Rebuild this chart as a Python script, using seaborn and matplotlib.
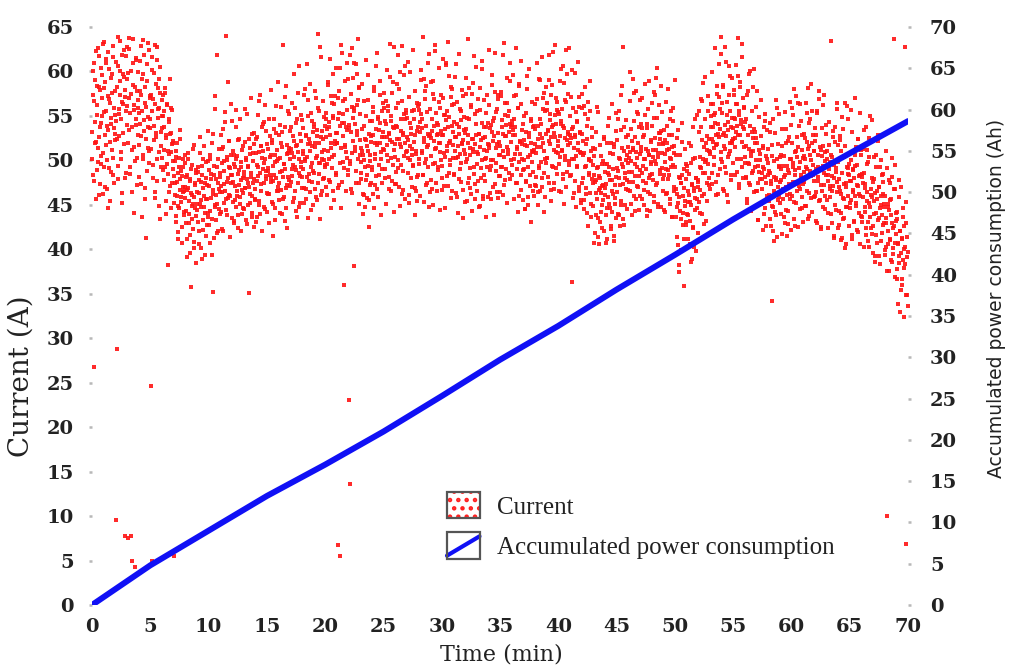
import matplotlib
matplotlib.use("Agg")
import pandas as pd
import matplotlib.pyplot as plt
import seaborn as sns
from matplotlib.patches import Rectangle
from matplotlib.lines import Line2D
from matplotlib.legend_handler import HandlerBase

# accumulated power consumption, read at 5 minute marks (Ah)
line_time = [0, 5, 10, 15, 20, 25, 30, 35, 40, 45, 50, 55, 60, 65, 70]
line_ah = [0, 4.8, 9.0, 13.2, 17.0, 21.0, 25.3, 29.7, 33.8, 38.2, 42.4, 46.7, 50.8, 54.7, 58.6]

# current samples (A), one string per minute, first half-second samples
current_a = [
    "53.2 60.1 48.4 56.7 26.8 51.9 62.3 45.6 55.1 58.4 49.8 61.7 52.6 47.3 57.9 54.2 50.5 59.6 46.2 63.1",
    "55.4 49.2 58.8 51.7 61.4 46.8 53.9 57.2 44.6 60.3 52.1 56.5 48.7 54.8 59.7 50.3 62.9 47.5 55.9 53.0",
    "57.8 9.6 28.8 52.4 60.6 47.9 55.2 63.4 58.9 50.1 54.6 61.8 45.2 56.3 59.4 51.8 7.8 57.1 48.6 62.7",
    "56.1 7.5 59.8 53.4 63.8 49.3 57.5 7.8 5.0 51.2 60.9 55.7 44.1 58.3 4.3 54.0 61.5 47.2 56.8 52.9",
    "55.3 48.1 61.2 52.7 57.4 43.6 59.1 50.6 63.5 54.5 46.9 58.2 41.3 56.0 60.8 51.4 53.8 49.7 62.4 57.0",
    "54.7 24.6 4.9 60.2 49.5 56.9 52.3 63.0 45.8 58.6 53.1 61.3 47.7 55.8 59.2 50.9 43.4 57.6 51.6 55.0",
    "53.6 57.3 48.9 55.5 51.2 58.1 45.4 52.8 56.2 49.6 38.2 54.3 50.7 47.1 53.0 55.9 44.6 51.8 49.0 52.2",
    "48.2 5.5 46.1 50.4 43.7 47.6 51.9 44.9 41.2 49.3 46.7 52.4 45.3 48.8 42.5 47.0 50.1 44.2 46.5 49.7",
    "45.8 42.9 48.4 39.1 46.9 50.8 44.0 47.7 41.6 35.8 46.3 49.5 43.4 45.1 51.7 40.8 47.2 44.6 48.9 38.4",
    "46.4 43.1 49.2 40.6 47.8 52.6 44.8 45.5 38.9 48.3 42.2 50.1 46.0 44.1 47.4 41.5 49.8 45.7 43.6 53.3",
    "47.1 42.7 50.6 44.3 48.5 39.4 52.0 46.2 35.2 49.4 45.0 55.8 43.3 47.9 61.9 41.8 50.2 46.8 44.5 48.1",
    "48.6 44.2 51.3 46.4 53.5 42.1 49.9 47.3 55.4 45.6 64.0 50.4 43.8 48.0 52.2 46.1 41.4 49.1 56.3 47.5",
    "48.3 45.3 51.0 43.0 49.6 47.1 53.8 44.7 50.5 46.6 42.4 52.3 48.9 45.9 54.6 47.8 49.2 44.0 51.6 46.3",
    "48.7 44.5 52.1 46.9 50.0 42.8 55.2 47.4 49.3 35.1 45.2 51.4 48.1 57.0 46.0 43.6 50.8 47.9 53.1 45.7",
    "46.8 52.4 49.5 43.6 55.1 48.2 50.9 45.0 57.4 51.6 47.3 53.7 42.1 49.0 54.3 44.8 50.2 56.2 47.9 48.8",
    "51.8 46.2 49.1 54.6 42.9 48.4 50.6 57.9 45.3 52.3 47.7 41.5 53.5 49.8 44.6 56.1 48.0 51.2 46.6 50.1",
    "47.4 52.9 50.3 44.1 56.0 48.8 51.5 45.6 63.0 49.6 43.2 53.8 46.9 58.4 50.7 42.4 48.1 55.2 51.0 47.1",
    "53.3 47.6 50.8 56.4 45.3 49.5 52.2 59.7 46.5 54.2 48.9 43.6 51.7 57.6 50.1 44.8 53.0 48.2 55.1 49.3",
    "48.1 53.6 51.0 45.2 57.3 49.9 52.7 46.8 60.8 50.4 43.5 55.0 47.7 52.0 58.6 44.4 49.3 54.4 51.6 48.8",
    "54.1 48.6 51.9 57.8 45.9 50.5 53.4 64.2 47.4 55.6 49.7 43.4 52.6 61.6 50.1 46.5 56.7 51.2 48.0 53.9",
    "49.5 55.3 52.6 46.1 58.8 51.1 53.7 47.8 61.4 52.0 44.6 56.4 50.4 54.8 59.7 45.5 51.8 57.2 48.6 53.1",
    "53.1 6.7 57.0 47.2 55.3 5.5 60.4 44.6 54.2 62.1 49.8 56.7 36.0 51.5 58.9 46.5 53.8 50.3 61.0 48.9",
    "54.0 23.0 13.6 49.9 57.5 46.3 62.6 52.2 59.3 38.1 55.6 51.0 60.8 47.4 56.2 53.3 63.7 45.1 58.1 50.6",
    "55.2 47.9 51.4 58.6 44.0 50.6 53.9 46.1 49.2 61.3 52.3 48.3 45.8 56.8 51.0 42.5 54.4 49.9 52.7 47.4",
    "49.3 56.0 52.8 44.6 58.3 50.1 47.2 53.5 62.1 51.7 45.9 54.9 48.4 52.0 57.4 43.8 50.9 55.6 49.0 53.2",
    "57.6 51.2 48.0 54.4 45.1 60.2 52.6 49.9 56.1 53.0 46.8 63.1 50.3 55.0 52.1 47.7 58.8 44.2 53.6 51.8",
    "50.4 55.9 47.3 53.7 61.8 49.1 52.4 58.0 44.9 54.6 51.5 46.2 56.7 53.1 48.8 59.6 52.0 45.6 55.3 50.9",
    "54.8 48.6 52.3 57.1 45.2 50.0 59.9 53.6 47.0 51.3 62.4 49.4 55.7 43.9 52.9 46.5 50.7 56.4 48.1 53.8",
    "49.6 56.3 53.2 46.0 59.0 51.0 54.7 63.9 48.3 52.5 45.3 57.8 50.2 53.9 47.5 55.4 61.0 51.7 44.7 52.9",
    "55.8 50.5 47.8 53.3 58.9 45.0 52.2 56.9 49.7 62.3 51.4 46.6 54.2 53.0 48.9 60.4 44.4 51.9 57.3 50.0",
    "52.8 46.7 57.0 50.8 55.1 44.6 53.5 60.9 48.2 51.6 63.3 47.1 54.9 52.0 49.5 58.2 45.8 53.9 56.2 50.3",
    "48.5 54.3 51.1 59.4 46.3 52.6 56.6 44.1 50.4 53.7 62.0 49.0 55.5 47.6 51.8 57.9 43.5 52.3 54.9 50.7",
    "53.1 49.8 57.5 45.4 51.9 63.7 48.0 54.6 50.6 46.9 56.0 52.4 44.3 58.7 51.3 49.2 55.2 47.3 60.5 52.9",
    "50.9 55.6 47.7 53.0 44.7 58.1 51.5 49.1 61.2 54.2 46.0 52.5 56.8 48.4 50.2 43.6 53.8 57.4 51.0 45.9",
    "56.2 51.4 48.9 53.6 45.7 50.0 59.6 52.2 47.0 54.8 43.9 62.1 49.7 55.4 51.8 46.4 57.3 53.1 48.2 50.6",
    "51.6 57.7 49.3 54.5 46.1 53.0 63.2 50.4 56.5 47.8 52.7 59.3 45.2 55.0 51.2 48.6 54.1 61.0 50.0 53.7",
    "54.0 48.3 52.9 45.6 57.2 50.7 53.8 62.6 47.4 51.3 55.9 44.2 49.8 58.4 52.1 46.7 56.3 50.2 53.4 48.9",
    "49.0 55.0 51.7 44.5 53.2 47.7 58.0 50.4 45.9 52.6 60.3 48.3 54.4 43.1 51.0 56.6 46.5 50.9 53.9 47.2",
    "53.5 47.1 50.8 56.9 45.0 52.4 59.1 49.4 54.7 46.6 51.5 61.6 48.0 55.8 52.0 44.2 57.6 50.1 53.0 49.7",
    "50.3 56.4 53.4 47.5 61.9 51.8 55.2 45.4 52.6 58.5 49.2 54.0 46.8 53.1 63.0 50.9 57.0 48.5 55.7 52.2",
    "55.4 49.6 52.7 58.9 46.4 54.1 51.1 60.6 47.9 53.6 45.1 56.8 50.5 62.4 52.3 48.7 57.5 53.0 49.9 55.0",
    "51.9 57.1 48.4 53.5 36.3 55.9 50.2 46.3 59.8 52.6 44.8 54.3 49.3 61.1 51.2 47.0 56.0 53.1 45.5 50.8",
    "53.0 47.4 50.6 56.1 44.5 49.2 58.3 51.8 46.2 52.4 42.6 54.7 48.3 50.0 55.5 45.1 51.1 47.9 53.6 49.5",
    "44.9 50.5 47.6 41.8 53.2 46.3 49.1 43.5 55.4 48.2 40.6 46.9 51.7 44.2 47.1 42.4 49.9 45.5 52.6 48.7",
    "49.6 43.8 47.3 52.0 41.2 45.9 54.8 48.4 44.6 50.8 42.3 47.8 56.3 46.2 49.0 40.9 51.5 45.1 48.1 53.3",
    "46.4 52.3 48.8 55.6 43.9 50.1 47.2 57.4 45.0 51.4 62.8 49.3 53.8 42.7 48.0 54.5 46.8 50.6 44.5 49.7",
    "52.8 47.6 50.9 56.7 45.1 53.5 48.7 59.1 51.2 46.0 54.4 49.6 44.3 57.8 50.3 47.1 52.0 55.2 48.2 50.7",
    "48.9 54.1 51.5 45.6 57.0 49.4 52.8 46.7 50.2 58.6 47.5 53.6 44.4 51.0 55.8 48.0 50.6 46.2 52.3 49.8",
    "53.9 48.5 51.2 57.7 46.0 52.5 49.9 59.3 47.2 54.8 50.4 45.1 56.2 51.8 48.9 53.1 44.7 55.4 50.8 52.0",
    "47.9 53.4 50.7 44.2 56.6 49.0 52.0 46.3 58.0 51.3 48.4 54.7 45.7 50.1 43.6 52.9 49.5 55.9 47.0 51.6",
    "49.3 43.6 46.8 52.5 41.4 45.2 37.4 48.1 44.3 50.6 39.9 47.4 54.2 42.7 46.0 35.9 49.0 44.9 47.9 43.1",
    "44.0 48.8 46.5 41.1 51.9 45.3 43.2 49.7 38.6 47.2 53.8 42.4 46.9 40.2 50.3 45.8 48.0 44.6 55.1 47.6",
    "47.8 53.2 50.4 44.1 56.9 49.1 52.3 46.0 58.7 51.5 42.8 48.6 54.6 50.0 45.4 52.7 49.6 55.5 47.2 51.0",
    "50.9 56.3 53.7 47.3 59.9 52.1 55.1 49.5 62.6 54.2 46.1 51.7 57.5 53.0 48.4 60.8 52.6 55.8 50.2 63.9",
    "55.3 49.8 52.9 58.2 46.6 54.0 51.3 61.1 48.6 56.6 53.4 45.3 50.7 57.4 52.0 59.5 47.8 54.8 51.9 53.6",
    "52.4 57.9 54.6 48.4 60.7 53.2 56.3 50.1 63.8 55.5 46.9 52.9 58.8 54.1 49.3 61.6 53.7 57.0 51.5 55.9",
    "54.3 48.1 51.6 57.3 45.7 52.8 49.6 59.7 47.2 53.9 50.5 44.3 55.6 51.1 48.8 60.3 46.4 53.2 50.0 52.5",
    "46.6 52.0 49.4 43.3 54.9 47.9 50.7 45.1 56.8 48.6 42.2 51.4 53.7 49.0 44.6 55.2 47.4 50.2 46.0 48.3",
    "51.3 45.4 48.6 54.2 42.6 47.7 34.2 50.5 44.8 49.9 40.9 46.3 53.1 48.0 43.9 55.9 47.0 51.8 45.9 49.2",
    "45.2 50.6 47.8 41.7 53.5 46.7 49.4 43.6 55.4 48.3 44.4 51.9 46.1 48.9 42.8 52.6 47.3 50.1 45.6 54.0",
    "51.9 46.0 49.7 55.1 43.4 48.4 50.9 57.2 45.2 52.6 47.6 42.5 53.9 49.1 46.8 56.3 48.0 51.2 44.6 50.3",
    "47.3 53.0 50.5 44.9 56.4 49.2 52.1 46.5 58.1 51.6 43.7 48.8 54.6 50.0 45.8 55.5 48.3 52.9 47.7 51.1",
    "52.2 46.4 49.0 55.3 43.0 48.1 50.6 56.9 45.5 51.5 47.2 42.3 53.6 49.4 44.7 57.4 48.6 50.9 46.0 53.0",
    "45.5 51.0 48.3 42.4 54.3 47.1 49.8 44.0 63.4 50.4 46.6 52.6 41.3 48.0 53.7 45.0 49.1 55.8 47.6 51.7",
    "49.8 44.3 47.0 52.7 41.0 46.2 48.6 54.9 43.4 50.4 45.7 40.1 51.6 47.4 44.8 56.1 46.0 49.1 42.6 48.3",
    "44.6 50.0 47.7 41.6 53.2 46.4 48.9 43.2 57.0 49.4 45.2 51.5 42.2 47.1 52.4 44.1 48.2 55.3 46.0 50.6",
    "48.5 43.1 45.9 51.3 40.3 44.7 47.3 53.8 42.4 49.6 46.4 40.9 50.4 45.2 43.6 55.0 46.8 48.0 41.7 47.6",
    "42.6 47.9 45.4 39.2 50.6 44.1 46.6 40.7 52.2 47.0 43.5 49.2 38.3 45.0 50.0 41.8 46.2 48.5 43.0 44.7",
    "46.0 40.2 43.5 49.1 10.0 42.1 44.8 37.6 47.5 41.0 45.6 38.8 50.3 43.0 39.5 63.6 42.6 46.8 40.7 44.1",
    "37.8 43.4 40.6 33.9 45.9 39.2 42.1 35.4 47.0 41.3 36.6 44.6 32.4 40.0 62.7 38.3 6.8 42.9 34.9 39.7",
]

# current samples (A), one string per minute, second half-second samples
current_b = [
    "50.2 57.4 61.0 47.7 54.3 59.0 52.1 48.9 56.2 62.6 51.4 46.1 58.3 53.7 49.6 60.4 55.0 57.0 50.8 63.3",
    "58.1 52.8 47.0 55.6 60.9 50.0 53.4 62.2 49.1 56.9 45.4 54.1 59.3 51.2 57.6 48.3 61.6 53.6 55.1 52.3",
    "54.4 61.1 58.2 49.4 63.9 55.8 52.7 57.4 60.0 50.9 56.6 46.3 59.7 53.1 62.4 57.9 48.0 55.5 61.7 54.0",
    "59.2 52.0 57.0 62.5 48.5 55.3 60.1 53.8 46.4 58.5 63.6 51.5 56.2 49.9 61.3 54.7 57.8 50.3 59.9 55.9",
    "51.7 57.8 54.1 62.9 47.3 55.6 59.7 50.2 53.3 61.8 45.6 56.5 52.4 58.9 48.8 54.9 63.2 51.1 57.2 53.6",
    "57.4 51.3 55.5 61.6 48.0 53.9 59.8 46.4 56.3 52.6 62.8 50.1 54.8 58.1 44.9 55.9 60.5 49.2 53.2 56.8",
    "50.3 55.0 47.8 53.7 57.6 49.2 52.5 44.0 56.3 51.0 48.5 54.6 46.4 59.2 50.9 53.1 47.5 55.7 49.9 52.0",
    "45.2 49.9 47.4 43.1 51.0 46.0 48.6 41.9 50.3 44.6 47.9 53.4 45.9 40.7 48.2 46.4 49.2 43.8 47.0 50.6",
    "48.1 44.3 46.7 41.2 50.1 45.4 43.0 47.9 39.6 49.0 44.9 46.1 42.3 51.3 45.9 40.1 47.4 43.7 48.6 45.1",
    "44.4 48.7 46.3 42.0 50.8 45.1 47.6 40.1 49.4 43.3 46.9 51.6 44.8 39.4 48.0 45.7 42.7 47.2 44.1 49.9",
    "48.9 40.7 50.2 45.8 47.9 43.4 53.0 46.7 41.3 48.4 44.8 57.2 46.1 49.2 45.1 47.5 42.1 51.3 46.4 44.0",
    "52.9 47.1 49.7 42.3 51.5 45.2 48.8 54.3 46.6 44.4 50.0 47.6 58.8 45.8 49.3 52.2 46.0 50.6 48.3 43.5",
    "54.4 47.6 43.2 50.6 45.5 49.3 55.7 50.1 46.0 48.5 43.9 52.4 47.2 45.1 49.8 42.0 51.2 46.7 48.0 44.6",
    "48.2 55.8 46.9 43.3 50.3 47.9 45.0 49.4 52.4 47.0 46.2 50.7 48.6 44.1 53.0 47.4 49.9 42.5 51.8 45.5",
    "50.8 43.1 52.6 47.7 49.2 45.4 56.7 48.6 44.0 51.6 46.6 50.3 54.1 51.1 47.4 49.7 44.5 53.3 48.2 46.3",
    "44.2 51.3 48.8 46.2 50.4 52.7 48.0 47.6 51.9 49.4 45.1 54.7 48.4 50.6 43.3 53.1 46.5 49.9 58.8 47.0",
    "45.5 54.0 48.7 46.7 52.0 44.0 53.2 48.1 49.6 45.9 57.1 49.0 44.6 51.7 47.2 50.8 55.6 51.4 47.8 50.1",
    "51.3 53.8 49.0 48.2 52.7 50.4 45.8 55.9 49.2 51.6 44.3 54.6 47.4 50.9 60.6 48.6 45.2 52.2 49.8 46.9",
    "54.5 49.0 50.7 46.9 58.0 50.2 45.6 52.8 48.1 51.8 56.8 52.4 48.5 51.1 46.4 55.3 49.7 47.6 53.2 45.0",
    "53.8 51.5 46.8 57.0 50.3 52.7 45.5 55.9 48.5 52.0 62.8 49.7 46.1 53.3 50.9 47.9 52.4 54.9 50.0 49.2",
    "47.0 54.6 49.6 53.5 58.5 54.3 50.1 52.9 47.6 57.2 51.4 49.1 55.0 46.5 56.3 50.6 52.2 48.3 60.4 51.9",
    "52.0 54.6 46.9 57.8 49.7 53.9 63.0 51.4 47.6 55.2 52.7 49.1 54.2 56.9 51.7 50.9 55.7 53.4 48.3 59.1",
    "53.6 49.6 61.9 53.2 46.8 56.0 50.8 54.8 60.9 55.9 51.5 54.1 48.8 59.7 52.9 50.2 56.8 47.4 58.3 52.3",
    "49.8 48.6 53.5 51.0 46.2 56.7 50.0 52.4 44.8 55.0 47.8 51.6 59.6 49.4 45.5 53.0 50.6 47.2 52.1 54.4",
    "48.9 55.4 46.2 57.8 50.7 52.0 48.2 60.6 51.9 46.8 54.7 49.5 53.4 58.9 54.2 50.1 52.6 47.4 56.4 51.3",
    "55.9 52.6 49.0 54.1 56.7 51.7 50.6 55.5 53.1 48.1 59.4 52.3 54.4 46.5 57.6 49.5 53.7 62.7 51.2 47.3",
    "53.9 48.7 58.6 52.4 50.0 56.4 47.0 59.9 51.8 53.3 49.5 62.9 52.9 46.7 55.2 50.5 54.6 60.6 55.7 51.1",
    "52.6 61.1 50.3 46.1 54.2 51.6 48.0 53.0 55.6 50.6 49.5 54.6 52.1 46.9 57.8 51.0 53.3 45.4 56.1 48.4",
    "55.7 50.2 54.3 60.2 55.2 50.8 53.6 48.4 59.2 52.1 49.7 56.9 47.2 58.4 51.5 53.0 49.2 62.0 52.7 46.4",
    "58.8 52.5 54.6 46.8 57.5 49.6 53.9 63.0 51.3 47.5 55.3 52.8 49.3 54.0 56.6 51.9 50.9 55.9 53.3 48.0",
    "49.4 61.4 52.9 47.1 55.1 50.4 54.5 60.7 55.6 51.0 53.8 48.6 59.5 52.2 50.0 57.1 46.6 58.0 51.7 53.2",
    "56.3 48.3 52.6 60.8 50.3 45.9 54.1 51.6 47.9 53.0 55.8 50.7 49.7 54.5 52.0 46.7 57.2 51.2 53.4 45.3",
    "53.5 59.3 54.8 50.2 52.9 47.5 58.1 51.4 49.1 56.2 46.2 57.5 50.9 52.4 48.5 61.7 51.8 45.7 54.1 49.6",
    "46.5 56.9 50.7 53.0 44.9 55.7 48.0 52.3 60.3 50.0 45.6 53.7 51.2 47.7 52.6 55.3 50.3 49.3 54.2 51.8",
    "62.4 51.7 46.3 54.0 49.4 53.2 58.5 54.4 50.0 52.7 47.3 57.7 51.4 48.8 55.8 45.8 56.9 50.6 52.1 48.2",
    "46.4 57.2 49.3 53.7 61.9 51.1 47.2 55.1 52.7 49.0 54.0 56.4 51.5 50.7 55.6 53.2 47.9 58.9 52.1 54.4",
    "49.5 53.4 59.6 54.6 50.2 52.8 47.4 57.4 51.5 49.0 55.9 46.0 58.6 50.7 52.2 48.4 61.2 51.8 45.5 54.1",
    "50.0 52.3 44.5 55.3 47.6 51.6 59.5 49.3 45.0 53.1 50.6 47.1 52.0 54.7 49.8 48.7 53.7 51.2 46.0 56.3",
    "51.8 48.1 60.9 51.5 46.4 53.9 49.1 53.0 59.0 54.1 49.8 52.5 47.0 57.0 51.1 48.6 55.5 45.9 58.2 50.3",
    "55.7 53.3 48.1 59.0 52.2 54.5 46.7 57.4 49.4 53.8 62.2 51.2 47.4 55.1 52.6 49.1 54.1 56.6 51.6 50.8",
    "46.6 55.2 50.4 54.4 60.3 55.8 51.2 53.9 48.5 58.7 52.5 50.0 56.6 47.0 59.7 51.7 53.2 49.5 62.6 52.8",
    "48.2 52.5 60.2 50.1 45.8 53.8 51.4 47.7 52.8 55.4 50.5 49.4 54.4 51.9 46.6 57.1 50.9 53.2 45.2 55.9",
    "57.5 52.2 48.0 50.8 45.5 55.2 49.4 46.9 53.9 44.1 56.6 48.6 50.2 46.3 58.9 49.9 43.6 52.6 47.5 51.4",
    "48.4 40.7 51.3 43.8 47.8 56.0 45.6 41.4 49.2 46.7 43.1 48.0 50.5 46.3 45.0 49.6 47.2 42.0 52.4 46.1",
    "46.9 40.7 49.6 44.6 48.6 53.9 49.3 45.1 47.8 42.6 52.0 46.5 44.2 50.7 41.5 51.8 45.8 47.2 43.5 55.3",
    "49.1 44.0 54.6 48.0 50.3 42.6 53.4 45.4 49.6 58.4 47.3 43.4 51.1 48.6 45.0 50.0 52.6 47.8 46.7 51.5",
    "48.7 50.3 46.5 59.9 49.9 43.8 52.2 47.6 51.4 57.6 52.6 48.2 50.9 45.6 55.4 49.3 47.0 53.8 44.4 56.8",
    "46.0 51.0 53.6 48.6 47.7 52.6 50.1 45.0 55.1 49.0 51.3 43.7 54.1 46.4 50.6 58.9 48.3 44.3 52.1 49.6",
    "56.4 50.4 47.8 54.8 45.3 57.3 49.6 51.2 47.4 60.4 50.8 44.8 53.1 48.5 52.4 58.4 53.3 49.1 51.8 46.6",
    "48.4 44.4 52.3 49.8 46.2 51.2 53.9 48.9 47.9 52.8 50.3 45.1 55.6 49.2 51.5 43.6 54.4 46.6 50.8 59.0",
    "39.3 50.6 44.7 46.2 40.5 53.4 45.9 38.2 48.0 43.4 47.4 52.1 48.4 44.1 46.9 41.2 51.3 45.4 42.7 49.6",
    "49.4 45.3 43.9 48.5 46.1 40.6 51.6 45.0 47.3 38.9 50.2 42.5 46.6 54.6 44.4 39.8 48.0 45.6 41.8 47.0",
    "45.3 55.5 49.3 46.7 53.8 44.0 56.7 48.6 50.1 46.2 59.4 49.8 43.2 52.0 47.4 51.2 57.2 52.4 48.0 50.7",
    "46.8 55.0 52.4 48.6 53.8 56.3 51.4 50.4 55.3 52.9 47.6 58.4 51.8 54.1 46.2 57.1 49.0 53.5 62.0 50.9",
    "56.5 46.8 58.5 51.6 53.1 49.3 62.8 52.7 46.1 55.1 50.4 54.3 60.6 55.6 51.0 53.7 48.4 59.3 52.2 49.7",
    "54.8 57.4 52.5 51.5 56.3 53.9 48.7 59.5 52.8 55.1 47.3 58.2 50.2 54.5 63.1 52.1 48.0 56.0 53.5 49.7",
    "50.4 48.0 54.7 45.2 57.8 49.7 51.3 47.5 60.0 50.9 44.4 53.2 48.6 52.5 58.3 53.5 49.2 51.9 46.6 56.0",
    "57.8 47.4 43.3 51.2 48.7 45.1 50.0 52.7 47.9 46.8 51.6 49.2 44.0 54.4 48.1 50.5 42.6 53.4 45.5 49.7",
    "46.1 48.8 43.4 53.2 47.3 44.9 51.7 42.0 54.6 46.6 48.1 44.2 56.8 47.8 41.4 50.1 45.5 49.4 55.2 50.4",
    "47.6 44.0 49.0 51.6 46.8 45.7 50.5 48.1 42.9 53.5 47.0 49.4 41.5 52.2 44.3 48.6 56.6 46.2 42.2 50.1",
    "55.9 47.6 49.2 45.3 58.0 48.9 42.6 51.1 46.6 50.4 56.4 51.5 47.1 49.8 44.5 54.4 48.3 45.9 52.8 43.1",
    "48.7 47.6 52.5 50.1 44.9 55.3 49.0 51.3 43.4 54.2 46.3 50.6 58.6 48.2 44.2 52.0 49.5 45.9 51.0 53.6",
    "46.0 52.8 43.2 55.6 47.7 49.3 45.4 57.8 48.9 42.5 51.2 46.6 50.5 56.2 51.6 47.2 49.9 44.5 54.0 48.4",
    "50.2 47.7 44.1 49.0 51.7 46.8 45.9 50.6 48.2 43.0 53.3 47.1 49.5 41.5 52.1 44.4 48.7 56.4 46.4 42.4",
    "47.9 42.7 52.3 46.5 44.1 51.0 41.3 53.5 45.8 47.3 43.5 56.4 47.0 40.6 49.2 44.7 48.5 54.6 49.6 45.2",
    "47.7 55.7 45.5 41.2 49.0 46.7 43.1 48.0 50.6 46.0 44.9 49.5 47.2 41.9 52.4 46.2 48.4 40.6 51.2 43.7",
    "48.1 43.6 47.4 53.4 48.6 44.2 46.9 41.6 51.2 45.4 43.1 49.8 40.2 52.5 44.7 46.1 42.4 54.5 45.9 39.6",
    "50.4 44.0 46.3 38.6 49.2 41.6 45.6 52.9 43.3 39.2 47.0 44.6 40.9 46.0 48.4 43.9 42.7 47.6 45.1 39.9",
    "39.4 51.1 42.9 37.5 45.1 40.6 44.4 47.8 45.5 41.1 43.8 38.6 48.1 42.4 40.1 46.8 36.9 49.5 41.7 43.2",
    "44.2 36.6 40.7 47.8 38.4 32.9 42.0 39.6 36.0 41.1 43.6 38.8 37.9 42.6 40.2 34.9 45.3 39.1 41.4 33.6",
]

# the two sample sets interleave inside each minute
rows = []
for minute, (ra, rb) in enumerate(zip(current_a, current_b)):
    va = [float(v) for v in ra.split()]
    vb = [float(v) for v in rb.split()]
    for i, v in enumerate(va):
        rows.append((minute + (i + 0.25) / len(va), v))
    for i, v in enumerate(vb):
        rows.append((minute + (i + 0.75) / len(vb), v))
cur = pd.DataFrame(rows, columns=["time", "current"])
acc = pd.DataFrame({"time": line_time, "ah": line_ah})

sns.set_style("white")
plt.rcParams["font.family"] = ["DejaVu Serif"]
plt.rcParams["font.weight"] = "bold"
plt.rcParams["hatch.linewidth"] = 2.0

fig = plt.figure(figsize=(10.1, 6.67), dpi=100)
ax = fig.add_axes([0.0911, 0.093, 0.808, 0.8666])

sns.scatterplot(data=cur, x="time", y="current", ax=ax, color="#ff1414",
                marker="s", s=10, linewidth=0, alpha=0.9, legend=False)
ax.collections[0].set_clip_on(False)

ax2 = ax.twinx()
sns.lineplot(data=acc, x="time", y="ah", ax=ax2, color="#1010f5",
             linewidth=4.3, solid_capstyle="round")

ax.set_xlim(0, 70)
ax.set_ylim(0, 65)
ax.set_xticks(range(0, 71, 5))
ax.set_yticks(range(0, 66, 5))
ax2.set_ylim(0, 70)
ax2.set_yticks(range(0, 71, 5))

for a in (ax, ax2):
    for sp in a.spines.values():
        sp.set_visible(False)
    a.tick_params(length=2.2, width=1.8, color="#b8b8b8", labelsize=14,
                  labelcolor="#222222")
ax.tick_params(axis="y", pad=11)
ax.tick_params(axis="x", pad=7.5)
ax2.tick_params(axis="y", pad=13.5)

ax.set_xlabel("Time (min)", fontsize=16, color="#222222")
ax.xaxis.set_label_coords(0.502, -0.066)
ax.set_ylabel("Current (A)", fontsize=20, color="#222222")
ax.yaxis.set_label_coords(-0.070, 0.396)
ax2.set_ylabel("Accumulated power consumption (Ah)", fontsize=13.5,
               family=["DejaVu Sans"], fontweight="normal", color="#222222")
ax2.yaxis.set_label_coords(1.097, 0.531)


class BoxHandler(HandlerBase):
    def __init__(self, kind):
        super().__init__()
        self.kind = kind

    def create_artists(self, legend, orig_handle, xdescent, ydescent,
                       width, height, fontsize, trans):
        x0, y0 = -xdescent, -ydescent
        arts = []
        if self.kind == "dots":
            arts.append(Rectangle((x0, y0), width, height, facecolor="white",
                                  edgecolor="#ff2020", hatch="..", linewidth=0,
                                  transform=trans))
        else:
            arts.append(Line2D([x0, x0 + width], [y0 + 0.12 * height, y0 + 0.85 * height],
                               color="#1010f5", linewidth=3, transform=trans))
        arts.append(Rectangle((x0, y0), width, height, fill=False,
                              edgecolor="#555555", linewidth=1.6, transform=trans))
        return arts


h_cur = Rectangle((0, 0), 1, 1)
h_acc = Rectangle((0, 0), 1, 1)
leg = ax2.legend([h_cur, h_acc], ["Current", "Accumulated power consumption"],
                 handler_map={h_cur: BoxHandler("dots"), h_acc: BoxHandler("line")},
                 loc="upper left", bbox_to_anchor=(447 / 1010, 1 - 492 / 667),
                 bbox_transform=fig.transFigure, frameon=False,
                 prop={"family": "Liberation Serif", "weight": "normal", "size": 18},
                 handlelength=1.3, handleheight=1.25, handletextpad=0.7,
                 labelspacing=0.55, borderpad=0, borderaxespad=0)
for t in leg.get_texts():
    t.set_color("#222222")

plt.savefig("out.png", dpi=100)
